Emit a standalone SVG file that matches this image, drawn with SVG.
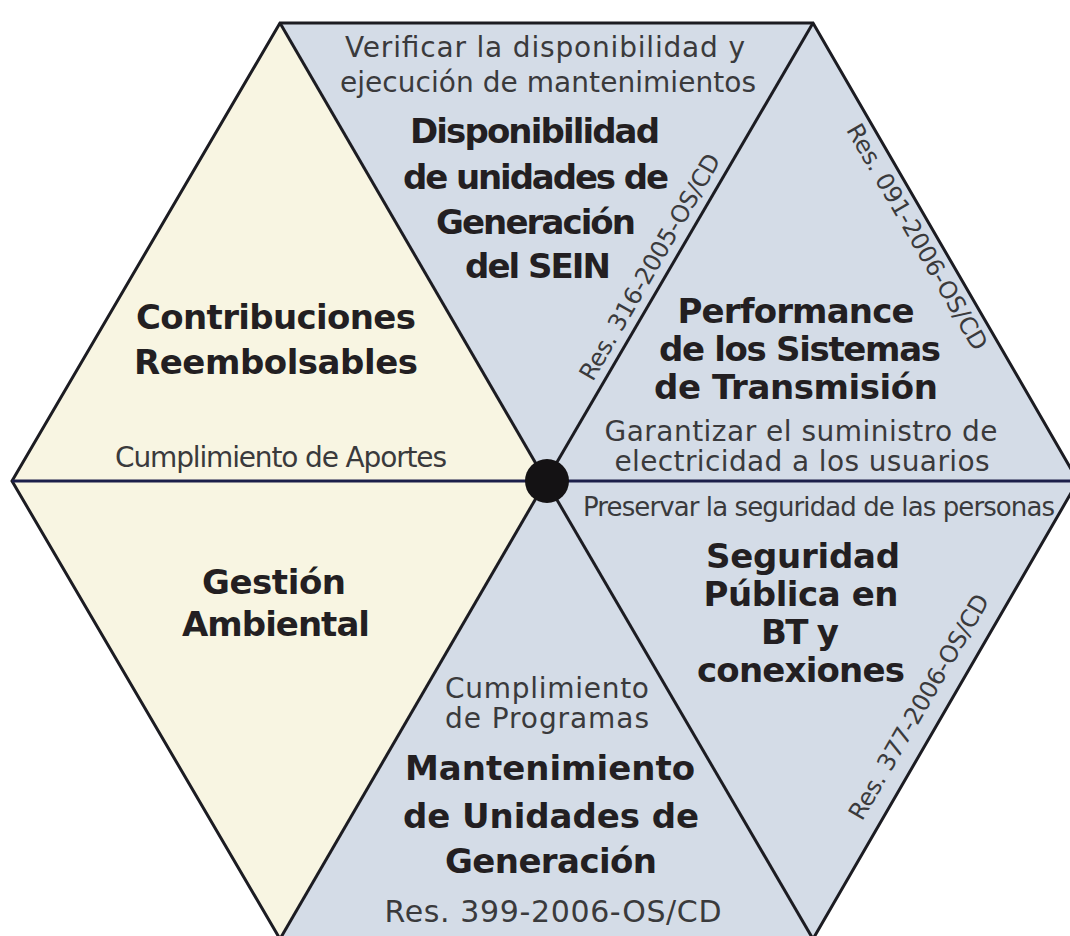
<svg xmlns="http://www.w3.org/2000/svg" width="1070" height="936" viewBox="0 0 1070 936">
<style>
.blue{fill:#d4dce7}
.cream{fill:#f8f5e2}
.t{font-family:"DejaVu Sans",sans-serif;font-weight:700;font-size:34px;fill:#231f22;text-anchor:middle}
.s{font-family:"DejaVu Sans",sans-serif;font-size:28px;fill:#3a3a3c;text-anchor:middle}
.r{font-family:"DejaVu Sans",sans-serif;font-size:24px;fill:#3a3a3c;text-anchor:middle}
.ln{stroke:#1c1c22;stroke-width:3;fill:none;stroke-linejoin:miter}
</style>
<rect width="1070" height="936" fill="#ffffff"/>
<g id="disponibilidad">
<polygon class="blue" points="546,481 280,23 813,23"/>
<text class="s" x="545" y="57" textLength="400">Verificar la disponibilidad y</text>
<text class="s" x="548" y="92" textLength="416">ejecución de mantenimientos</text>
<text class="t" x="535" y="143" textLength="250">Disponibilidad</text>
<text class="t" x="536" y="189" textLength="266">de unidades de</text>
<text class="t" x="536" y="234" textLength="200">Generación</text>
<text class="t" x="538" y="278" textLength="146">del SEIN</text>
<text class="r" transform="translate(657,271) rotate(-60)" textLength="257">Res. 316-2005-OS/CD</text>
</g>
<g id="performance">
<polygon class="blue" points="546,481 813,23 1078,481"/>
<text class="r" transform="translate(910,241) rotate(60)" textLength="257">Res. 091-2006-OS/CD</text>
<text class="t" x="796" y="323" textLength="237">Performance</text>
<text class="t" x="800" y="361" textLength="282">de los Sistemas</text>
<text class="t" x="796" y="399" textLength="284">de Transmisión</text>
<text class="s" x="801" y="441" textLength="393">Garantizar el suministro de</text>
<text class="s" x="802" y="471" textLength="375">electricidad a los usuarios</text>
</g>
<g id="seguridad">
<polygon class="blue" points="546,481 1078,481 813,939"/>
<text class="s" x="819" y="516" style="font-size:26px" textLength="472">Preservar la seguridad de las personas</text>
<text class="t" x="803" y="568" textLength="194">Seguridad</text>
<text class="t" x="801" y="606" textLength="195">Pública en</text>
<text class="t" x="800" y="644" textLength="78">BT y</text>
<text class="t" x="801" y="682" textLength="208">conexiones</text>
<text class="r" transform="translate(926,711) rotate(-60)" textLength="256">Res. 377-2006-OS/CD</text>
</g>
<g id="mantenimiento">
<polygon class="blue" points="546,481 813,939 280,939"/>
<text class="s" x="547" y="698" textLength="204">Cumplimiento</text>
<text class="s" x="547" y="728" textLength="204">de Programas</text>
<text class="t" x="550" y="780" textLength="290">Mantenimiento</text>
<text class="t" x="551" y="828" textLength="296">de Unidades de</text>
<text class="t" x="551" y="873" textLength="212">Generación</text>
<text class="s" x="553" y="922" style="font-size:30px" textLength="337">Res. 399-2006-OS/CD</text>
</g>
<g id="gestion">
<polygon class="cream" points="546,481 280,939 12,481"/>
<text class="t" x="274" y="594" textLength="144">Gestión</text>
<text class="t" x="276" y="636" textLength="188">Ambiental</text>
</g>
<g id="contribuciones">
<polygon class="cream" points="546,481 12,481 280,23"/>
<text class="t" x="276" y="329" textLength="280">Contribuciones</text>
<text class="t" x="276" y="374" textLength="284">Reembolsables</text>
<text class="s" x="281" y="467" textLength="332">Cumplimiento de Aportes</text>
</g>
<g id="connectors">
<polygon class="ln" points="280,23 813,23 1078,481 813,939 280,939 12,481"/>
<line class="ln" x1="546" y1="481" x2="280" y2="23"/>
<line class="ln" x1="546" y1="481" x2="813" y2="23"/>
<line class="ln" x1="546" y1="481" x2="280" y2="939"/>
<line class="ln" x1="546" y1="481" x2="813" y2="939"/>
<line x1="12" y1="481" x2="1078" y2="481" stroke="#1c1f4a" stroke-width="3"/>
<circle cx="547" cy="481" r="22" fill="#141214"/>
</g>
</svg>
